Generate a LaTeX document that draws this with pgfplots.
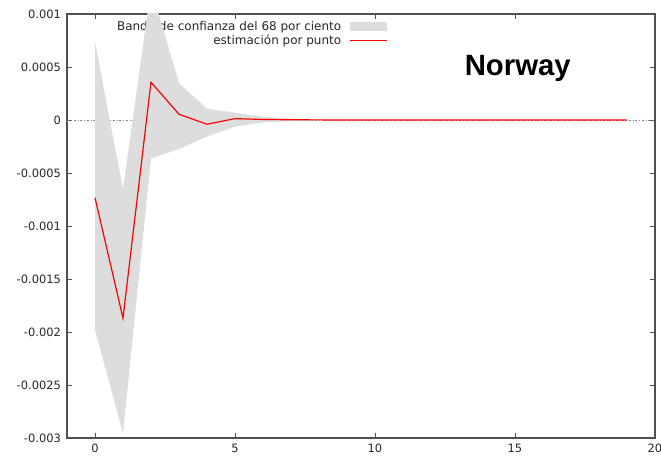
\documentclass[border=0pt]{standalone}
\usepackage{pgfplots}
\pgfplotsset{compat=1.18}
\usepackage{fontspec}
\setmainfont{DejaVu Sans}
\newfontfamily\titlefont{Liberation Sans}
\usetikzlibrary{calc}
\definecolor{bandgray}{RGB}{221,221,221}
\definecolor{axgray}{RGB}{80,80,80}
\begin{document}
\begin{tikzpicture}
\begin{axis}[
  set layers,
  clip mode=individual,
  scale only axis,
  width=441pt, height=318pt,
  xmin=-1, xmax=20, ymin=-0.003, ymax=0.001,
  xtick={0,5,10,15,20},
  xticklabels={0,5,10,15,20},
  ytick={-0.003,-0.0025,-0.002,-0.0015,-0.001,-0.0005,0,0.0005,0.001},
  yticklabels={-0.003,-0.0025,-0.002,-0.0015,-0.001,-0.0005,0,0.0005,0.001},
  scaled y ticks=false,
  tick align=inside,
  major tick length=4pt,
  tick style={axgray, line width=0.7pt},
  axis line style={axgray, line width=0.9pt},
  ticklabel style={font=\fontsize{8.6}{10}\selectfont, text=black!85},
  yticklabel style={xshift=-1pt},
  xticklabel style={yshift=-1pt},
  legend cell align=right,
  legend plot pos=right,
  legend style={at={(rel axis cs:0.546,0.988)}, anchor=north east, draw=none, fill=none,
     font=\fontsize{9}{10}\selectfont, text=black!85, row sep=0pt, inner sep=0pt,
     nodes={inner sep=0.5pt, text height=7.5pt, text depth=2pt}},
]
\addplot[axgray!70, line width=0.5pt, dash pattern=on 1.5pt off 1.5pt on 0.4pt off 1.5pt, forget plot] coordinates {(-1,0) (20,0)};
\addplot[on layer=axis foreground, fill=bandgray, draw=none,
  legend image code/.code={\path (0pt,0pt); \fill[bandgray] (5.5pt,-3.4pt) rectangle (33.5pt,3.4pt);}]
  coordinates {
  (0,0.000736) (1,-0.000654) (2,0.00125) (3,0.000346) (4,0.000107) (5,0.000069)
  (6,0.00003) (7,0.000012) (8,0.000005) (9,0.000002) (10,0.000001) (11,0) (12,0)
  (13,0) (14,0) (15,0) (16,0) (17,0) (18,0) (19,0)
  (19,0) (18,0) (17,0) (16,0) (15,0) (14,0) (13,0) (12,0) (11,0)
  (10,-0.000001) (9,-0.000002) (8,-0.000004) (7,-0.00001) (6,-0.000022)
  (5,-0.000063) (4,-0.000157) (3,-0.000274) (2,-0.000362) (1,-0.002956) (0,-0.00198)
  };
\addlegendentry{Banda de confianza del 68 por ciento}
\addplot[on layer=axis foreground, red, line width=0.9pt,
  legend image code/.code={\path (0pt,0pt); \draw[red, line width=0.9pt] (5.5pt,0pt) -- (33.5pt,0pt);}]
  coordinates {
  (0,-0.000733) (1,-0.00187) (2,0.000356) (3,0.000054) (4,-0.00004) (5,0.000013)
  (6,0.000005) (7,0.000002) (8,0.000001) (9,0) (10,0) (11,0) (12,0) (13,0) (14,0)
  (15,0) (16,0) (17,0) (18,0) (19,0)
  };
\addlegendentry{estimación por punto}
\node[font=\titlefont\bfseries\fontsize{22}{24}\selectfont] at (axis cs:15.1,0.00049) {Norway};
\end{axis}
\pgfresetboundingbox
\path[use as bounding box] ($(current axis.south west)+(-50.25pt,-15.75pt)$) rectangle ($(current axis.north east)+(4.5pt,10.5pt)$);
\end{tikzpicture}
\end{document}
